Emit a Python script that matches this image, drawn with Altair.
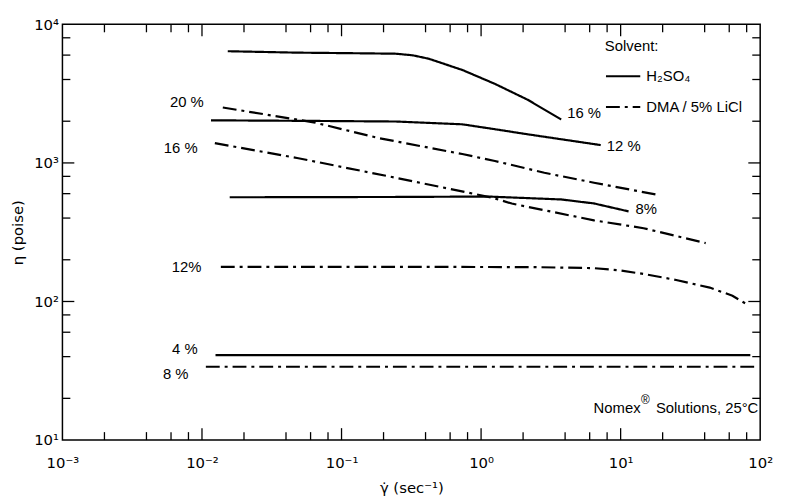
import altair as alt
import pandas as pd

# ---------------- data ----------------
solvents = ["H₂SO₄", "DMA / 5% LiCl"]

# H2SO4 solutions (solid lines)
h16_x = [0.0153, 0.048, 0.108, 0.245, 0.324, 0.421, 0.733, 1.256, 2.153, 3.75]
h16_y = [6400, 6250, 6200, 6140, 5980, 5650, 4690, 3720, 2860, 2060]
h12_x = [0.0116, 0.063, 0.245, 0.733, 1.26, 2.15, 7.2]
h12_y = [2030, 2010, 1990, 1900, 1750, 1610, 1345]
h08_x = [0.0158, 0.245, 1.12, 3.75, 6.44, 11.4]
h08_y = [565, 568, 572, 545, 510, 447]
h04_x = [0.0125, 85.0]
h04_y = [41, 41]

# DMA / 5% LiCl solutions (dash-dot lines)
d20_x = [0.0141, 0.0632, 0.186, 0.733, 1.256, 2.84, 6.44, 18.0]
d20_y = [2512, 1963, 1509, 1159, 1033, 849, 720, 591]
d16_x = [0.01236, 0.048, 0.245, 1.197, 1.66, 6.44, 14.6, 40.7]
d16_y = [1390, 1086, 781, 562, 509, 385, 338, 264]
d12_x = [0.01365, 0.245, 2.4, 6.44, 9.7, 14.6, 25, 43.5, 63.3, 80.9]
d12_y = [178, 178, 177, 174, 168, 158, 143, 126, 110, 95]
d08_x = [0.01066, 95.2]
d08_y = [33.8, 33.8]

curves = [
    ("H16", solvents[0], h16_x, h16_y),
    ("H12", solvents[0], h12_x, h12_y),
    ("H08", solvents[0], h08_x, h08_y),
    ("H04", solvents[0], h04_x, h04_y),
    ("D20", solvents[1], d20_x, d20_y),
    ("D16", solvents[1], d16_x, d16_y),
    ("D12", solvents[1], d12_x, d12_y),
    ("D08", solvents[1], d08_x, d08_y),
]

# curve labels
left_labels = ["20 %", "16 %", "12%", "4 %", "8 %"]
left_x = [0.0103, 0.0093, 0.0099, 0.0093, 0.0080]
left_y = [2730, 1280, 178, 45.4, 30.1]
right_labels = ["16 %", "12 %", "8%"]
right_x = [4.14, 7.96, 12.8]
right_y = [2275, 1320, 462]
note_parts = ["Nomex", "®", "Solutions, 25°C"]
note_x = [6.4]
note_y = [17.0]

x_tick_labels = ["10⁻³", "10⁻²", "10⁻¹", "10⁰", "10¹", "10²"]
y_tick_labels = ["10¹", "10²", "10³", "10⁴"]
x_major = [1e-3, 1e-2, 1e-1, 1, 10, 100]
y_major = [10, 100, 1000, 10000]
x_minor = [m * 10.0 ** e for e in range(-3, 2) for m in (2, 4, 6, 8)]
y_minor = [m * 10.0 ** e for e in range(1, 4) for m in (2, 4, 6, 8)]

# ---------------- tables ----------------
rows = []
for cid, solv, xs_, ys_ in curves:
    for i, (a, b) in enumerate(zip(xs_, ys_)):
        rows.append({"curve": cid, "solvent": solv, "x": a, "y": b, "o": i})
df = pd.DataFrame(rows)

FONT = "Liberation Sans"
TFONT = "DejaVu Sans"
W, H = 705, 420
MAJ, MIN = 12, 8
FS = 15

xs = alt.Scale(type="log", domain=[1e-3, 1e2], nice=False)
ys = alt.Scale(type="log", domain=[10, 1e4], nice=False)

xlab_expr = "[" + ",".join("'%s'" % s for s in x_tick_labels) + "][round(log(datum.value)/LN10)+3]"
ylab_expr = "[" + ",".join("'%s'" % s for s in y_tick_labels) + "][round(log(datum.value)/LN10)-1]"

XTITLE = "γ̇ (sec⁻¹)"
YTITLE = "η (poise)"

xaxis = alt.Axis(values=x_major, labelExpr=xlab_expr, ticks=False, domain=False,
                 grid=False, labelFlush=False, labelOverlap=False,
                 labelFontSize=15, labelPadding=16, labelFont=TFONT, labelColor="black",
                 titleFontSize=15, titleFont=TFONT, titleFontWeight="normal",
                 titlePadding=10, titleColor="black")
yaxis = alt.Axis(values=y_major, labelExpr=ylab_expr, ticks=False, domain=False,
                 grid=False, labelFlush=False, labelOverlap=False,
                 labelFontSize=15, labelPadding=4, labelFont=TFONT, labelColor="black",
                 titleFontSize=15, titleFont=TFONT, titleFontWeight="normal",
                 titlePadding=8, titleColor="black")


def X(field):
    return alt.X(field, scale=xs, axis=xaxis, title=XTITLE)


def Y(field):
    return alt.Y(field, scale=ys, axis=yaxis, title=YTITLE)


lines = alt.Chart(df).mark_line(color="black", strokeWidth=2.2).encode(
    x=X("x:Q"),
    y=Y("y:Q"),
    strokeDash=alt.StrokeDash(
        "solvent:N",
        scale=alt.Scale(domain=solvents, range=[[1, 0], [14, 5, 3, 5]]),
        legend=alt.Legend(title="Solvent:", orient="none", legendX=548, legendY=15,
                          symbolType="stroke", symbolSize=1200, symbolStrokeWidth=2,
                          symbolStrokeColor="black", labelFontSize=FS, labelFont=FONT,
                          titleFontSize=FS, titleFont=FONT, titleFontWeight="normal",
                          labelColor="black", titleColor="black", rowPadding=4,
                          titlePadding=4, labelOffset=5, padding=0),
    ),
    detail="curve:N",
    order="o:Q",
)

xt_maj = pd.DataFrame({"v": x_major[1:-1]})
xt_min = pd.DataFrame({"v": x_minor})
yt_maj = pd.DataFrame({"v": y_major[1:-1]})
yt_min = pd.DataFrame({"v": y_minor})


def xticks(d, ln):
    bot = alt.Chart(d).mark_rule(color="black", strokeWidth=1.3).encode(
        x=X("v:Q"), y=alt.value(H), y2=alt.value(H - ln))
    top = alt.Chart(d).mark_rule(color="black", strokeWidth=1.3).encode(
        x=X("v:Q"), y=alt.value(0), y2=alt.value(ln))
    return [bot, top]


def yticks(d, ln):
    left = alt.Chart(d).mark_rule(color="black", strokeWidth=1.3).encode(
        y=Y("v:Q"), x=alt.value(0), x2=alt.value(ln))
    right = alt.Chart(d).mark_rule(color="black", strokeWidth=1.3).encode(
        y=Y("v:Q"), x=alt.value(W), x2=alt.value(W - ln))
    return [left, right]


ldf = pd.DataFrame({"t": left_labels, "x": left_x, "y": left_y})
rdf = pd.DataFrame({"t": right_labels, "x": right_x, "y": right_y})
ndf = pd.DataFrame({"x": note_x, "y": note_y})

ltext = alt.Chart(ldf).mark_text(align="right", baseline="middle", fontSize=FS, font=FONT,
                                 color="black").encode(x=X("x:Q"), y=Y("y:Q"), text="t:N")
rtext = alt.Chart(rdf).mark_text(align="left", baseline="middle", fontSize=FS, font=FONT,
                                 color="black").encode(x=X("x:Q"), y=Y("y:Q"), text="t:N")
n1 = alt.Chart(ndf).mark_text(align="left", baseline="middle", fontSize=FS, font=FONT,
                              color="black", text=note_parts[0]).encode(x=X("x:Q"), y=Y("y:Q"))
n2 = alt.Chart(ndf).mark_text(align="left", baseline="middle", fontSize=12, font=FONT,
                              color="black", text=note_parts[1], dx=48, dy=-8).encode(
    x=X("x:Q"), y=Y("y:Q"))
n3 = alt.Chart(ndf).mark_text(align="left", baseline="middle", fontSize=FS, font=FONT,
                              color="black", text=note_parts[2], dx=63).encode(
    x=X("x:Q"), y=Y("y:Q"))

layers = [lines] + xticks(xt_maj, MAJ) + xticks(xt_min, MIN) + yticks(yt_maj, MAJ) + \
    yticks(yt_min, MIN) + [ltext, rtext, n1, n2, n3]

chart = alt.layer(*layers).properties(
    width=W, height=H,
    background="white",
    autosize=alt.AutoSizeParams(type="none"),
    padding={"left": 55, "top": 14, "right": 18, "bottom": 54},
).configure_view(stroke="black", strokeWidth=1.5)

chart.save("out.html", embed_options={"renderer": "svg", "actions": False})
